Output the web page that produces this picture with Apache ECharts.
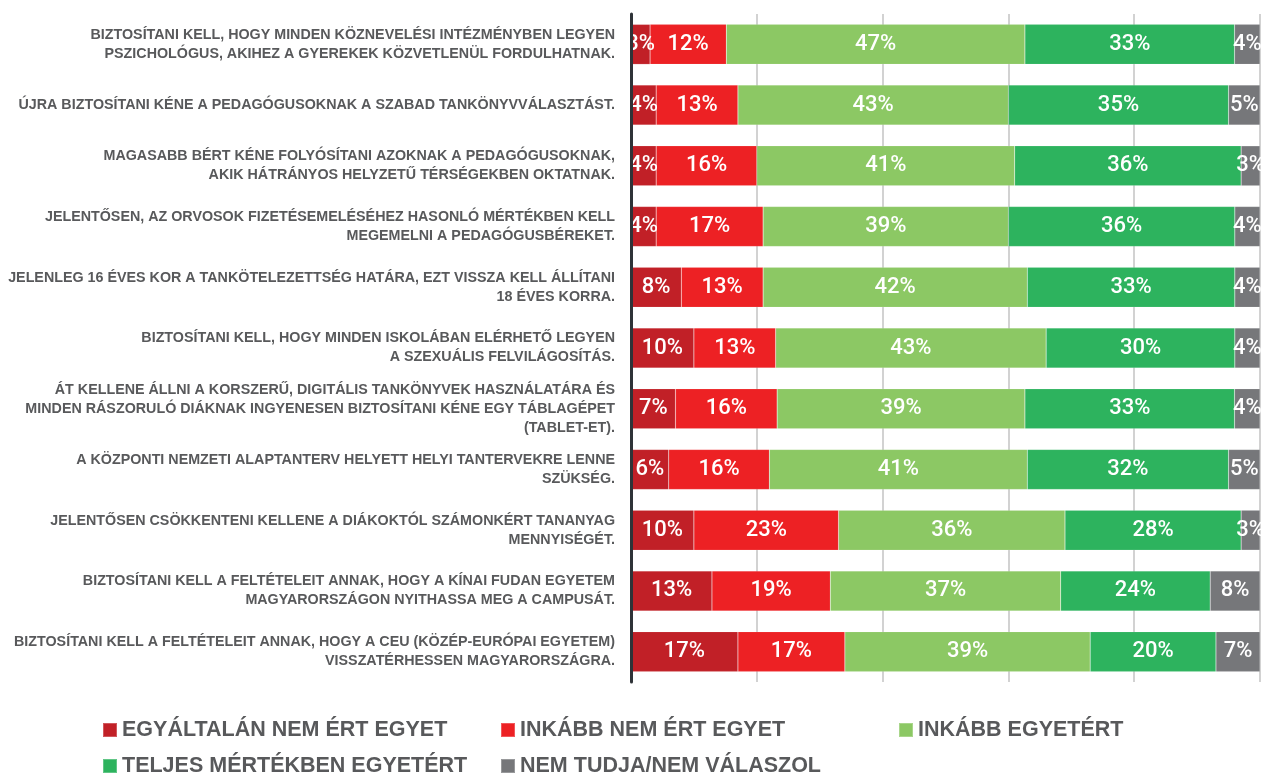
<!DOCTYPE html>
<html>
<head>
<meta charset="utf-8">
<script src="https://cdn.jsdelivr.net/npm/echarts@6/dist/echarts.min.js"></script>
<style>
  html, body { margin: 0; padding: 0; background: #fff; }
  #chart { width: 1264px; height: 777px; }
</style>
</head>
<body>
<div id="chart"></div>
<script>
// állítások (felülről lefelé)
var categories = [
  'BIZTOSÍTANI KELL, HOGY MINDEN KÖZNEVELÉSI INTÉZMÉNYBEN LEGYEN\nPSZICHOLÓGUS, AKIHEZ A GYEREKEK KÖZVETLENÜL FORDULHATNAK.',
  'ÚJRA BIZTOSÍTANI KÉNE A PEDAGÓGUSOKNAK A SZABAD TANKÖNYVVÁLASZTÁST.',
  'MAGASABB BÉRT KÉNE FOLYÓSÍTANI AZOKNAK A PEDAGÓGUSOKNAK,\nAKIK HÁTRÁNYOS HELYZETŰ TÉRSÉGEKBEN OKTATNAK.',
  'JELENTŐSEN, AZ ORVOSOK FIZETÉSEMELÉSÉHEZ HASONLÓ MÉRTÉKBEN KELL\nMEGEMELNI A PEDAGÓGUSBÉREKET.',
  'JELENLEG 16 ÉVES KOR A TANKÖTELEZETTSÉG HATÁRA, EZT VISSZA KELL ÁLLÍTANI\n18 ÉVES KORRA.',
  'BIZTOSÍTANI KELL, HOGY MINDEN ISKOLÁBAN ELÉRHETŐ LEGYEN\nA SZEXUÁLIS FELVILÁGOSÍTÁS.',
  'ÁT KELLENE ÁLLNI A KORSZERŰ, DIGITÁLIS TANKÖNYVEK HASZNÁLATÁRA ÉS\nMINDEN RÁSZORULÓ DIÁKNAK INGYENESEN BIZTOSÍTANI KÉNE EGY TÁBLAGÉPET\n(TABLET-ET).',
  'A KÖZPONTI NEMZETI ALAPTANTERV HELYETT HELYI TANTERVEKRE LENNE\nSZÜKSÉG.',
  'JELENTŐSEN CSÖKKENTENI KELLENE A DIÁKOKTÓL SZÁMONKÉRT TANANYAG\nMENNYISÉGÉT.',
  'BIZTOSÍTANI KELL A FELTÉTELEIT ANNAK, HOGY A KÍNAI FUDAN EGYETEM\nMAGYARORSZÁGON NYITHASSA MEG A CAMPUSÁT.',
  'BIZTOSÍTANI KELL A FELTÉTELEIT ANNAK, HOGY A CEU (KÖZÉP-EURÓPAI EGYETEM)\nVISSZATÉRHESSEN MAGYARORSZÁGRA.'
]

var seriesNames = [
  'EGYÁLTALÁN NEM ÉRT EGYET',
  'INKÁBB NEM ÉRT EGYET',
  'INKÁBB EGYETÉRT',
  'TELJES MÉRTÉKBEN EGYETÉRT',
  'NEM TUDJA/NEM VÁLASZOL'
]

var egyaltalanNem = [3, 4, 4, 4, 8, 10, 7, 6, 10, 13, 17]
var inkabbNem = [12, 13, 16, 17, 13, 13, 16, 16, 23, 19, 17]
var inkabbIgen = [47, 43, 41, 39, 42, 43, 39, 41, 36, 37, 39]
var teljesen = [33, 35, 36, 36, 33, 30, 33, 32, 28, 24, 20]
var nemTudja = [4, 5, 3, 4, 4, 4, 4, 5, 3, 8, 7]

var colors = ['#c12027', '#ed2124', '#8cc864', '#2db35e', '#76777a']

var raw = [egyaltalanNem, inkabbNem, inkabbIgen, teljesen, nemTudja]

// soronként 100%-ra skálázva, a felirat a kerekített értéket mutatja
var rowSums = categories.map(function(c, i) {
  return raw.reduce(function(s, arr) { return s + arr[i] }, 0)
})

var chart = echarts.init(document.getElementById('chart'))

var legendPos = [
  { left: 102, top: 719 },
  { left: 500, top: 719 },
  { left: 898, top: 719 },
  { left: 102, top: 755 },
  { left: 500, top: 755 }
]

chart.setOption({
  animation: false,
  color: colors,
  grid: {
    left: 631,
    right: 4,
    top: 14,
    bottom: 95,
    outerBoundsMode: 'none'
  },
  legend: legendPos.map(function(p, i) {
    return {
      left: p.left,
      top: p.top,
      padding: 0,
      icon: 'rect',
      itemWidth: 14,
      itemHeight: 14,
      selectedMode: false,
      data: [seriesNames[i]],
      textStyle: {
        fontFamily: 'Liberation Sans',
        fontWeight: 'bold',
        fontSize: 21.5,
        lineHeight: 22,
        color: '#58595b'
      }
    }
  }),
  xAxis: {
    type: 'value',
    min: 0,
    max: 100,
    interval: 20,
    axisLabel: { show: false },
    axisLine: { show: false },
    axisTick: { show: false },
    splitLine: {
      lineStyle: { color: '#d2d2d2', width: 2 }
    }
  },
  yAxis: {
    type: 'category',
    inverse: true,
    data: categories,
    axisTick: { show: false },
    axisLine: {
      show: true,
      lineStyle: { color: '#2f3338', width: 3 }
    },
    axisLabel: {
      margin: 16,
      fontFamily: 'Liberation Sans',
      fontWeight: 'bold',
      fontSize: 14.3,
      lineHeight: 19,
      color: '#58595b',
      align: 'right'
    },
    z: 10
  },
  series: raw.map(function(arr, si) {
    return {
      name: seriesNames[si],
      type: 'bar',
      stack: 'total',
      barWidth: 40,
      data: arr.map(function(v, i) { return v / rowSums[i] * 100 }),
      itemStyle: {
        borderColor: 'rgba(255,255,255,0.25)',
        borderWidth: 0.5
      },
      label: {
        show: true,
        position: 'inside',
        color: '#fff',
        fontFamily: 'Roboto',
        fontWeight: 500,
        fontSize: 22,
        formatter: function(p) {
          return raw[p.seriesIndex][p.dataIndex] + '%'
        }
      }
    }
  })
})
</script>
</body>
</html>
